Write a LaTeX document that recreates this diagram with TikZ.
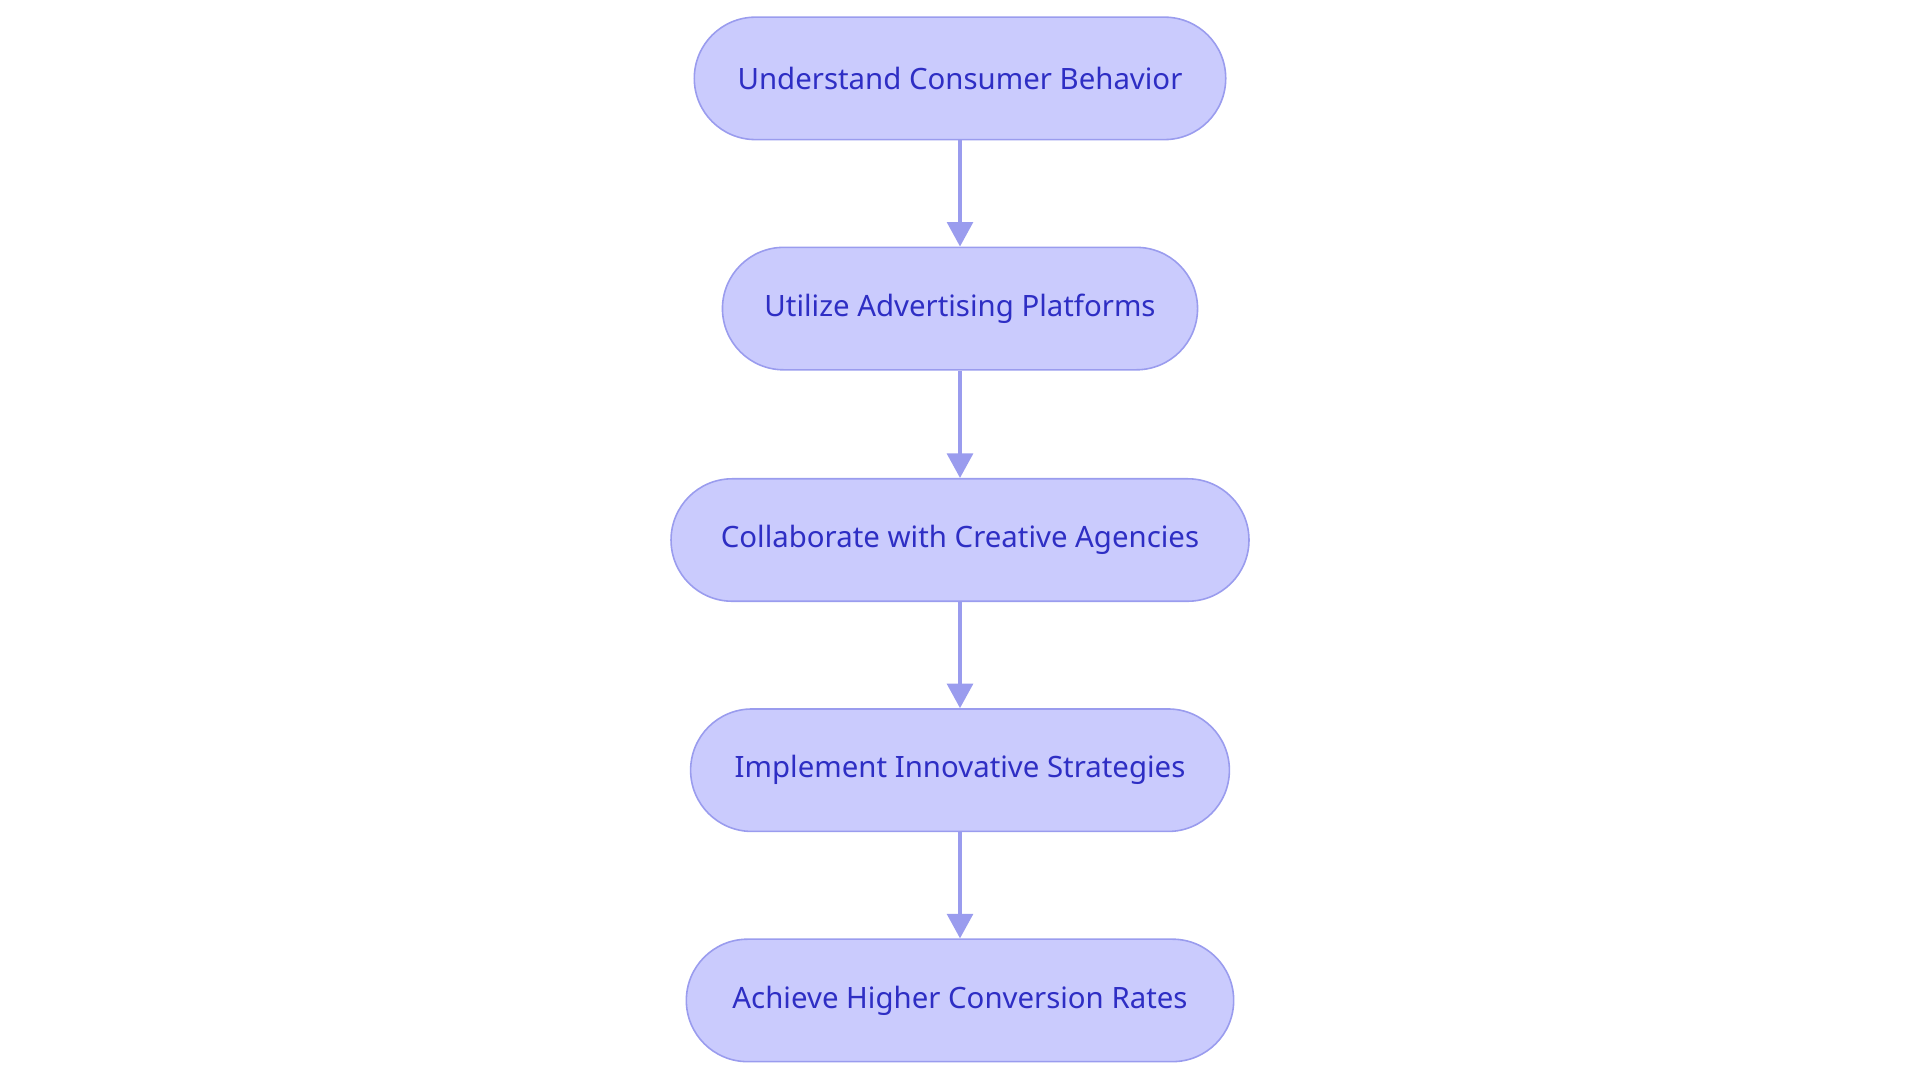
\documentclass[tikz,border=0pt]{standalone}
\usepackage{fontspec}
\setmainfont{Noto Sans}
\usetikzlibrary{arrows.meta}
\definecolor{nfill}{HTML}{CACBFD}
\definecolor{ndraw}{HTML}{9A9CEE}
\definecolor{ntext}{HTML}{2E2EC4}
\begin{document}
\begin{tikzpicture}[x=1pt,y=-1pt,
  box/.style={draw=ndraw,line width=1.3pt,fill=nfill,rounded corners=50pt,minimum height=100pt,text=ntext,font=\fontsize{24}{27}\selectfont,inner sep=0pt},
  arr/.style={draw=ndraw,line width=3pt,-{Triangle[length=20pt,width=21pt]}}]
\useasboundingbox (0,0) rectangle (1568,884);
\node[box,minimum width=434pt] (a) at (784,64) {Understand Consumer Behavior};
\node[box,minimum width=388pt] (b) at (784,252) {Utilize Advertising Platforms};
\node[box,minimum width=472pt] (c) at (784,441) {Collaborate with Creative Agencies};
\node[box,minimum width=440pt] (d) at (784,629) {Implement Innovative Strategies};
\node[box,minimum width=447pt] (e) at (784,817) {Achieve Higher Conversion Rates};
\draw[arr] (a) -- (b);
\draw[arr] (b) -- (c);
\draw[arr] (c) -- (d);
\draw[arr] (d) -- (e);
\end{tikzpicture}
\end{document}
